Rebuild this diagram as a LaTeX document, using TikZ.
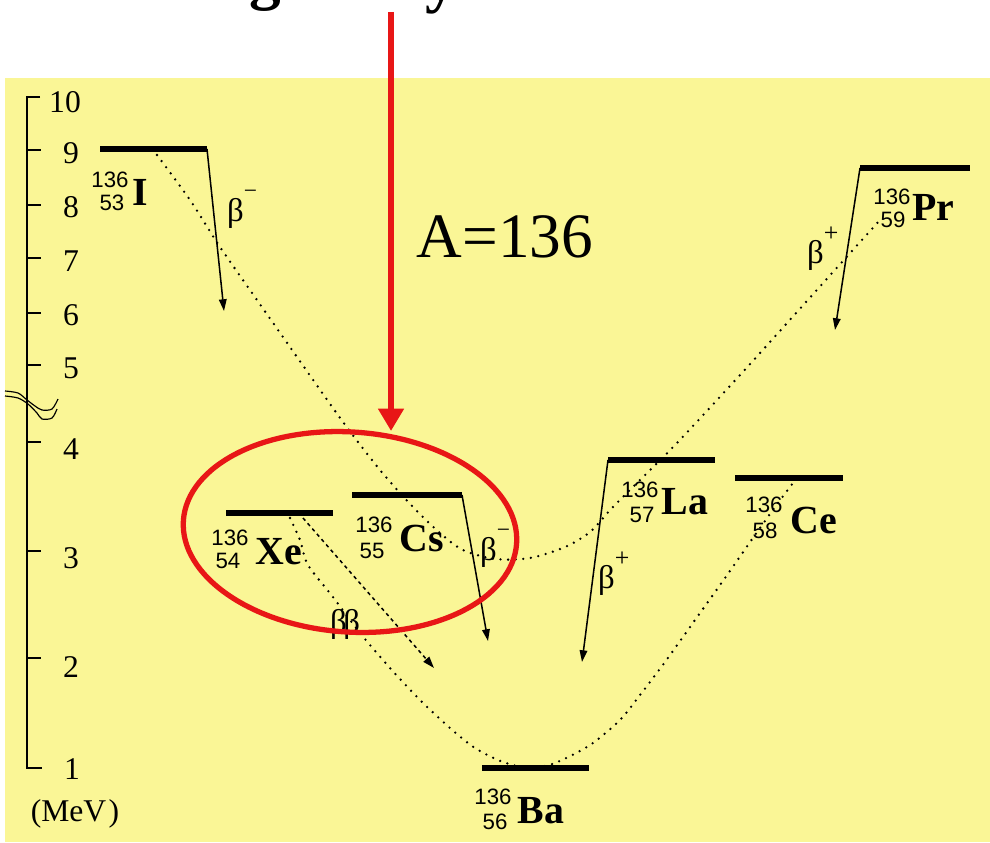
\documentclass[tikz,border=0pt]{standalone}
\usepackage{fontspec}
\setmainfont{Liberation Serif}
\newfontfamily\sansf{Liberation Sans}
\usetikzlibrary{arrows.meta}
\definecolor{bgyellow}{RGB}{250,246,150}
\definecolor{arrowred}{RGB}{232,22,22}
\begin{document}
\begin{tikzpicture}[x=0.03cm,y=-0.03cm,
  levelline/.style={line width=4.5pt},
  decay/.style={line width=1.3pt,-{Triangle[length=10pt,width=6.5pt]}},
  bbarrow/.style={line width=1.3pt,dash pattern=on 3pt off 3pt,-{Triangle[length=10pt,width=6.5pt]}},
  parab/.style={line width=2.2pt,line cap=round,dash pattern=on 0pt off 6.5pt},
  massnum/.style={font=\sansf\fontsize{19}{19}\selectfont,inner sep=0pt},
  sym/.style={font=\bfseries\fontsize{34}{34}\selectfont,inner sep=0pt},
  ticklab/.style={font=\fontsize{27}{27}\selectfont,inner sep=0pt},
  betalab/.style={font=\fontsize{28}{28}\selectfont,inner sep=0pt,anchor=base west},
  axisline/.style={line width=1.5pt},
  titlebit/.style={font=\bfseries\fontsize{54}{54}\selectfont,anchor=south,inner sep=0pt},
]
\useasboundingbox (0,0) rectangle (990,842);
\fill[white] (0,0) rectangle (990,842);
\fill[bgyellow] (5,78) rectangle (990,842);

% cut-off title text (only the descenders show)
\begin{scope}
  \clip (0,0) rectangle (990,40);
  \node[titlebit] (topg) at (265,12) {g};
  \node[titlebit] (topy) at (441,14) {y};
\end{scope}

% energy axis
\draw[axisline] (40,97) -- (27,97) -- (27,768) -- (42,768);
\foreach \yy in {150,205,258,313,365,442,551,658}
  \draw[axisline] (27,\yy) -- (41,\yy);
\node[ticklab] (t10) at (65,102) {10};
\node[ticklab] (t9) at (71,153) {9};
\node[ticklab] (t8) at (71,207) {8};
\node[ticklab] (t7) at (71,261) {7};
\node[ticklab] (t6) at (71,315) {6};
\node[ticklab] (t5) at (71,368) {5};
\node[ticklab] (t4) at (71,449) {4};
\node[ticklab] (t3) at (71,558) {3};
\node[ticklab] (t2) at (71,667) {2};
\node[ticklab] (t1) at (72,769) {1};
\node[ticklab] (mev) at (75,814) {(MeV\kern2pt)};
% axis break
\draw[line width=1pt] plot[smooth] coordinates {(5,391) (18,393) (27,400) (35,406) (42,410) (52,409) (58,399)};
\draw[line width=1pt] plot[smooth] coordinates {(5,396) (18,398) (28,404) (37,413) (42,419) (52,418) (57,409)};

% mass parabolas (dotted)
\draw[parab] plot[smooth] coordinates {(157,155) (190,200) (220,247) (257,300) (297,357) (343,422) (380,470) (413,507) (440,533) (463,550) (495,559) (530,558) (565,547) (590,532) (612,508) (640,480) (677,443) (740,375) (797,312) (842,262) (880,220)};
\draw[parab] plot[smooth] coordinates {(290,518) (300,540) (308,565) (333,597) (360,633) (390,668) (420,700) (450,728) (475,748) (503,762) (530,768) (555,763) (590,745) (620,720) (640,695) (665,662) (695,620) (725,578) (755,535) (775,507) (793,483)};

% levels
\coordinate (Il) at (100,149); \coordinate (Ir) at (207,149);
\coordinate (Xel) at (226,513); \coordinate (Xer) at (333,513);
\coordinate (Csl) at (352,495); \coordinate (Csr) at (462,495);
\coordinate (Bal) at (482,768); \coordinate (Bar) at (589,768);
\coordinate (Lal) at (608,460); \coordinate (Lar) at (715,460);
\coordinate (Cel) at (735,478); \coordinate (Cer) at (843,478);
\coordinate (Prl) at (860,168); \coordinate (Prr) at (970,168);
\foreach \a/\b in {Il/Ir,Xel/Xer,Csl/Csr,Bal/Bar,Lal/Lar,Cel/Cer,Prl/Prr}
  \draw[levelline] (\a) -- (\b);

% decay arrows
\coordinate (Iend) at (224,311);
\coordinate (Csend) at (488,641);
\coordinate (Laend) at (582,662);
\coordinate (Prend) at (835,330);
\draw[decay] (Ir) -- (Iend);
\draw[decay] (Csr) -- (Csend);
\draw[decay] (Lal) -- (Laend);
\draw[decay] (Prl) -- (Prend);
\coordinate (bbstart) at (303,518);
\coordinate (bbend) at (434,668);
\draw[bbarrow] (bbstart) -- (bbend);

% decay labels
\node[betalab] (bI) at (227,221) {β\raisebox{19pt}{\fontsize{20}{20}\selectfont −}};
\node[betalab] (bCs) at (480,560) {β\raisebox{19pt}{\fontsize{20}{20}\selectfont −}};
\node[betalab] (bLa) at (598,588) {β\raisebox{18pt}{\fontsize{22}{22}\selectfont +}};
\node[betalab] (bPr) at (807,263) {β\raisebox{18pt}{\fontsize{22}{22}\selectfont +}};
\node[font=\fontsize{28}{28}\selectfont,inner sep=0pt] (bb) at (345,624) {β\kern-3ptβ};

% isotope labels
\node[massnum] (IA) at (110,180) {136};
\node[massnum] (IZ) at (112,203) {53};
\node[sym] (IS) at (140,192) {I};
\node[massnum] (XeA) at (230,538) {136};
\node[massnum] (XeZ) at (228,561) {54};
\node[sym] (XeS) at (279,552) {Xe};
\node[massnum] (CsA) at (374,525) {136};
\node[massnum] (CsZ) at (372,551) {55};
\node[sym] (CsS) at (422,538) {Cs};
\node[massnum] (BaA) at (493,797) {136};
\node[massnum] (BaZ) at (495,822) {56};
\node[sym] (BaS) at (541,811) {Ba};
\node[massnum] (LaA) at (640,490) {136};
\node[massnum] (LaZ) at (642,515) {57};
\node[sym] (LaS) at (685,502) {La};
\node[massnum] (CeA) at (764,505) {136};
\node[massnum] (CeZ) at (765,531) {58};
\node[sym] (CeS) at (814,520) {Ce};
\node[massnum] (PrA) at (892,197) {136};
\node[massnum] (PrZ) at (893,220) {59};
\node[sym] (PrS) at (933,207) {Pr};

% A = 136
\node[font=\fontsize{54}{54}\selectfont,inner sep=0pt] (mass) at (505,237) {A=136};

% red highlight
\coordinate (redtop) at (391,12);
\coordinate (redtip) at (391,431);
\draw[arrowred,line width=5pt,-{Triangle[length=19pt,width=21pt]}] (redtop) -- (redtip);
\draw[arrowred,line width=4.5pt,rotate around={-4:(350,532)}] (350,532) ellipse [x radius=167,y radius=100];
\end{tikzpicture}
\end{document}
